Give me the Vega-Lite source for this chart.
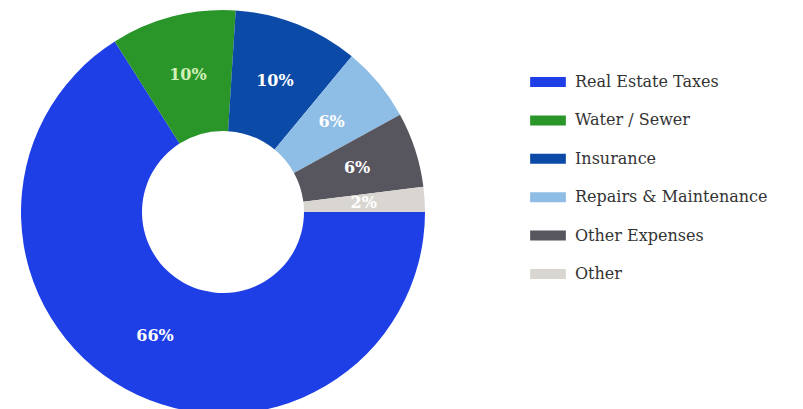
{
  "$schema": "https://vega.github.io/schema/vega-lite/v6.json",
  "width": 446,
  "height": 424,
  "padding": 0,
  "background": "white",
  "data": {
    "values": [
      {"category": "Real Estate Taxes", "pct": 66, "label": "66%", "rank": 1},
      {"category": "Water / Sewer", "pct": 10, "label": "10%", "rank": 2},
      {"category": "Insurance", "pct": 10, "label": "10%", "rank": 3},
      {"category": "Repairs & Maintenance", "pct": 6, "label": "6%", "rank": 4},
      {"category": "Other Expenses", "pct": 6, "label": "6%", "rank": 5},
      {"category": "Other", "pct": 2, "label": "2%", "rank": 6}
    ]
  },
  "encoding": {
    "theta": {"field": "pct", "type": "quantitative", "stack": true, "scale": {"range": [1.5708, 7.854]}},
    "order": {"field": "rank", "type": "quantitative"},
    "color": {
      "field": "category",
      "type": "nominal",
      "sort": ["Real Estate Taxes", "Water / Sewer", "Insurance", "Repairs & Maintenance", "Other Expenses", "Other"],
      "scale": {"range": ["#1e3fe6", "#2a962a", "#0b4aa6", "#8ebde6", "#57555e", "#d9d6d1"]},
      "legend": {
        "title": null,
        "orient": "none",
        "legendX": 530,
        "legendY": 64,
        "symbolType": "M-1,-0.28H1V0.28H-1Z",
        "symbolSize": 1275,
        "symbolStrokeWidth": 0,
        "symbolOpacity": 1,
        "labelFont": "DejaVu Serif",
        "labelFontSize": 16,
        "labelColor": "#333333",
        "labelOffset": 9,
        "rowPadding": 12.4,
        "labelLimit": 300
      }
    }
  },
  "layer": [
    {"mark": {"type": "arc", "outerRadius": 202, "innerRadius": 81}},
    {
      "mark": {"type": "text", "radius": 141, "font": "DejaVu Serif", "fontSize": 16, "fontWeight": "bold"},
      "encoding": {
        "text": {"field": "label", "type": "nominal"},
        "color": {
          "condition": {"test": "datum.category === 'Water / Sewer'", "value": "#d2f0b8"},
          "value": "#ffffff"
        }
      }
    }
  ],
  "config": {"view": {"stroke": null}}
}
